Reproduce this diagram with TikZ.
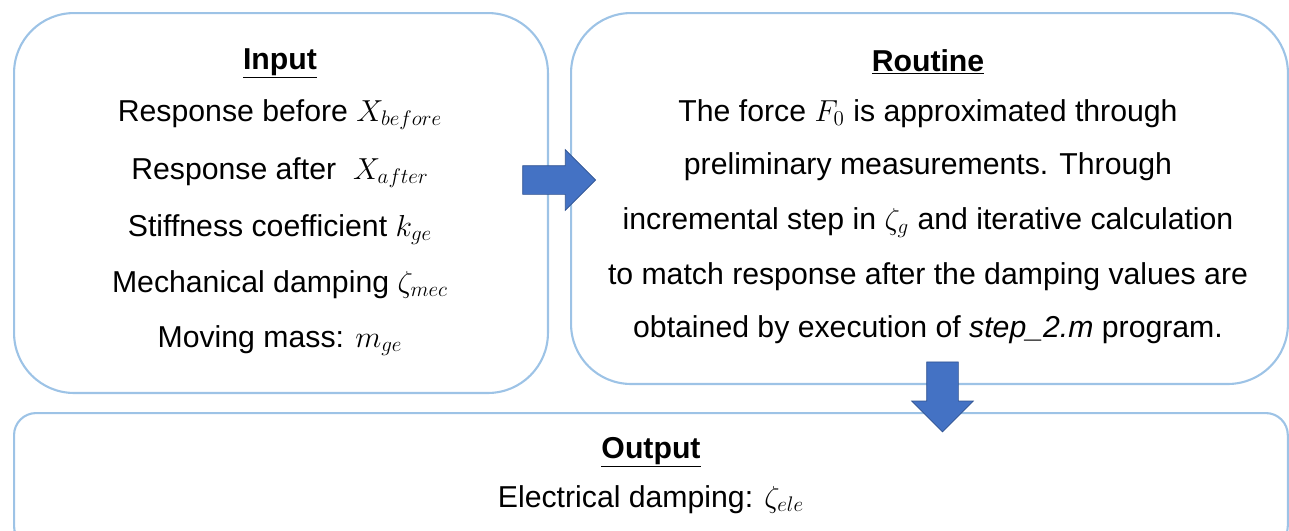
\documentclass[tikz,border=0pt]{standalone}
\usepackage{fontspec}
\setmainfont{Liberation Sans}
\usetikzlibrary{shapes.arrows}
\definecolor{boxblue}{RGB}{157,195,230}
\definecolor{arrowblue}{RGB}{68,114,196}
\definecolor{arrowedge}{RGB}{47,82,143}
\tikzset{%
panel/.style={draw=boxblue,line width=1.2pt,rounded corners=1.2cm,anchor=north west,inner sep=0pt},
txt/.style={font=\fontsize{17.2}{20}\selectfont,inner sep=0pt,anchor=base},
head/.style={txt,font=\fontsize{17.2}{20}\selectfont\bfseries},
blockarrow/.style={single arrow,fill=arrowblue,draw=arrowedge,line width=0.4pt}
}
\begin{document}
\begin{tikzpicture}[x=0.02cm,y=-0.02cm]
\useasboundingbox (0,0) rectangle (1289,531);
% panels
\node[panel,minimum width=10.68cm,minimum height=7.6cm]  (input)   at (13,12)  {};
\node[panel,minimum width=14.34cm,minimum height=7.42cm] (routine) at (570,12) {};
\node[panel,minimum width=25.48cm,minimum height=2.7cm,rounded corners=0.44cm] (output) at (13,412) {};

% input
\node[head] (inhead) at (280,69) {\underline{Input}};
\foreach \n/\y/\t in {inA/121/{Response before $X_{before}$},
                      inB/179/{Response after~ $X_{after}$},
                      inC/236/{Stiffness coefficient $k_{ge}$},
                      inD/292/{Mechanical damping $\zeta_{mec}$},
                      inE/347/{Moving mass: $m_{ge}$}}
  \node[txt] (\n) at (280,\y) {\t};

% routine
\node[head] (rouhead) at (928,71) {\underline{Routine}};
\foreach \n/\y/\t in {roA/121/{The force $F_0$ is approximated through},
                      roB/174/{preliminary measurements. Through},
                      roC/229/{incremental step in $\zeta_g$ and iterative calculation},
                      roD/284/{to match response after the damping values are},
                      roE/337/{obtained by execution of \textit{step\_2.m} program.}}
  \node[txt] (\n) at (928,\y) {\t};

% output
\node[head] (outhead) at (651,458) {\underline{Output}};
\node[txt]  (outA)    at (651,507) {Electrical damping: $\zeta_{ele}$};

% arrows
\node[blockarrow,inner sep=0.28cm,minimum height=1.46cm,single arrow head extend=0.32cm] (toroutine) at (552,180) {};
\node[blockarrow,inner sep=0.31cm,minimum height=1.4cm,single arrow head extend=0.3cm,
      shape border rotate=270] (tooutput) at (942.5,389) {};
\end{tikzpicture}
\end{document}
